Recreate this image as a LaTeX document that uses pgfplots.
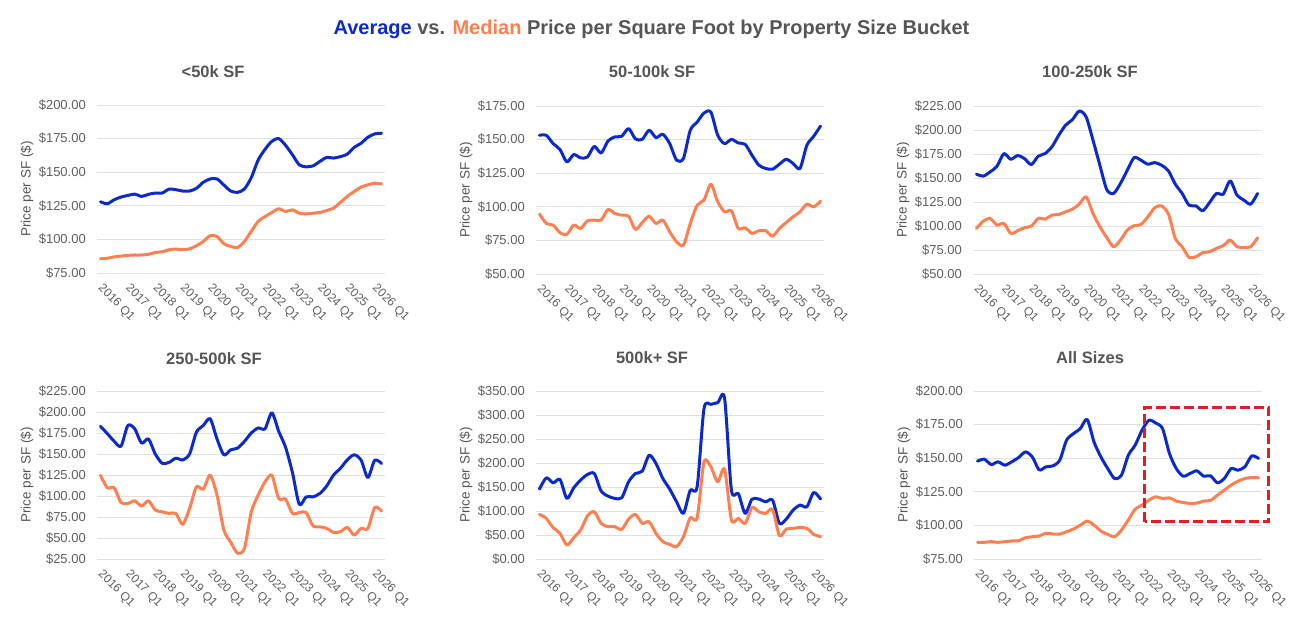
\documentclass[border=0pt]{standalone}
\usepackage{pgfplots}
\pgfplotsset{compat=1.18}
\usepackage{pgfplotstable}
\usepackage{fontspec}
\setmainfont{Liberation Sans}
\definecolor{avgblue}{RGB}{12,42,204}
\definecolor{medorange}{RGB}{255,127,80}
\definecolor{txtgray}{RGB}{85,85,85}
\definecolor{tickgray}{RGB}{95,95,95}
\definecolor{gridgray}{RGB}{224,224,224}
\definecolor{boxred}{RGB}{224,32,32}

\pgfplotstableread{
i avg med
0 128 85.6
1 126.5 86
2 129.5 87
3 131.5 87.6
4 132.7 88.1
5 133.7 88.4
6 132 88.4
7 133.5 88.9
8 134.5 90.3
9 134.5 90.8
10 137.4 92.3
11 137 92.8
12 136 92.3
13 136 93
14 138 95.3
15 142.5 98.5
16 145 102.7
17 145 102.2
18 140.5 96.8
19 136 94.8
20 135 94
21 137.5 98.5
22 146 106
23 159 113.4
24 167 117
25 173 120
26 175 122.8
27 170 120.8
28 163 122
29 155.5 119.5
30 154 119
31 154.7 119.5
32 158 120
33 161 121.5
34 160.5 123.3
35 161.6 127.5
36 163.4 132
37 168.5 135.6
38 171.5 138.9
39 176 140.6
40 178.5 141.8
41 179 141.3
}\tA

\pgfplotstableread{
i avg med
0 153.2 94.6
1 153.2 87.6
2 147 86.4
3 142.6 80.7
4 133.4 79.5
5 138.9 86.4
6 136.4 83.9
7 137 89.6
8 145 90.1
9 140 90.1
10 149 98
11 152 95
12 152.5 93.8
13 158.2 93
14 150.5 83.2
15 150.2 88.4
16 157 93
17 151.5 87.6
18 154 90.1
19 147 81.4
20 134.7 74
21 136 71.5
22 157 87.6
23 163 101.2
24 169.8 105
25 170.5 116.8
26 153.2 103.7
27 147 96.3
28 150.2 97
29 147.5 83.9
30 146.5 84.4
31 138.4 80.2
32 131 82.2
33 128.5 82.2
34 128 78.2
35 131.7 83.9
36 135.4 88.4
37 132.2 92.6
38 128.5 96.3
39 145.8 102
40 152.5 100
41 160.1 104.2
}\tB

\pgfplotstableread{
i avg med
0 154 97.5
1 152 105.1
2 156.4 107.9
3 162.3 101
4 175.4 102.7
5 169.5 92.3
6 173.4 95.1
7 170.3 98.2
8 164 99.9
9 172.7 107.9
10 175.4 107.2
11 182.4 111.3
12 194.5 112
13 205 114.8
14 210.8 117.6
15 219.8 122.8
16 213.6 130.4
17 189.3 113.1
18 163.3 99.2
19 138 88.1
20 133.9 78.4
21 144.3 85.4
22 158.1 95.8
23 171.3 100.3
24 168.5 101.6
25 164.4 109.6
26 166.1 119
27 163.3 121
28 157.4 112.4
29 143.6 87.1
30 133.9 78.4
31 121.7 67.3
32 121 68
33 115.9 72.2
34 124.5 73.2
35 133.9 76.7
36 133.2 79.5
37 147 85.4
38 132.1 78.4
39 127 77.7
40 122.8 78.4
41 133.9 87.8
}\tC

\pgfplotstableread{
i avg med
0 183 124.8
1 174.3 109.8
2 165.2 109.8
3 159.3 92.3
4 184 91.1
5 180 94.3
6 163 88
7 168 94.3
8 150 83.2
9 139 81.2
10 140 79.3
11 145 79.3
12 143 66.2
13 150 85.2
14 176 111
15 184 108.2
16 192 124.8
17 168 101
18 149 59.5
19 155 44.9
20 157 31.8
21 165 37.7
22 175 81.2
23 181 101
24 180 116.9
25 199 124.8
26 177 97
27 158 96.3
28 128 79.3
29 90 80.4
30 99 80.4
31 99 64.2
32 103 63.4
33 112 61.4
34 125 56.7
35 133 57.5
36 143 62.6
37 149 53.5
38 143 61.4
39 122 61.4
40 142.6 86.4
41 138.7 82
}\tD

\pgfplotstableread{
i avg med
0 145.6 92.9
1 169.1 84.6
2 158.7 65.2
3 165.7 53.4
4 126.2 29.1
5 148.3 44.4
6 164.3 60.3
7 176.1 90.1
8 178.1 98.4
9 141.4 74.2
10 131 67.3
11 126.2 67.3
12 127.5 61.7
13 160.8 83.2
14 178.1 92.9
15 183 74.2
16 216.3 77.7
17 198.9 53.4
18 167.7 36.1
19 145.6 30.5
20 119.2 25.7
21 95 46.5
22 143.5 86
23 150.4 86
24 313.3 202.4
25 322.3 192
26 325.7 160.8
27 335 187.1
28 143.5 81.1
29 136.6 84.6
30 95 74.2
31 124.8 107.5
32 124.8 98.4
33 119.2 95
34 122.7 103.3
35 74.2 48.5
36 83.2 62.4
37 101.9 63.8
38 112.3 65.9
39 108.8 63.8
40 138.6 51.3
41 124.8 46.5
}\tE

\pgfplotstableread{
i avg med
0 147.8 87.4
1 149.3 87.4
2 145.3 87.9
3 147.3 87.4
4 144.8 87.9
5 147.3 88.4
6 150.5 88.6
7 154.7 90.8
8 151 91.6
9 141.3 92.1
10 143.6 94.1
11 144.3 93.6
12 148.5 93.6
13 163.4 95.3
14 168.3 97.3
15 172 100.2
16 178.9 103.2
17 162.1 100.2
18 151 95.8
19 142.3 93.3
20 134.9 91.6
21 137.4 96.5
22 152.2 104
23 159.7 112.1
24 170.8 115.1
25 178.2 118.8
26 176.2 121.3
27 172 120
28 153.5 120.5
29 142.3 118.1
30 136.6 117.1
31 138.6 116.3
32 140.6 116.6
33 136.6 118.1
34 136.9 118.6
35 131.7 122.5
36 134.9 126.2
37 142.3 130
38 141.1 132.9
39 143.6 134.9
40 151.7 135.6
41 149.8 135.4
}\tF

\pgfplotsset{
  panel/.style={
    scale only axis, width=288pt, height=168pt,
    xmin=-0.5, xmax=41.5,
    axis line style={draw=none},
    major tick style={draw=none},
    ymajorgrids, grid style={gridgray, line width=1pt},
    xtick={0,4,...,40},
    xticklabels={2016 Q1,2017 Q1,2018 Q1,2019 Q1,2020 Q1,2021 Q1,2022 Q1,2023 Q1,2024 Q1,2025 Q1,2026 Q1},
    xticklabel style={xshift=-0.5pt, yshift=-13.5pt, rotate=-45, anchor=west, inner sep=0pt,
      font=\fontsize{12}{14}\selectfont, text=tickgray},
    /pgf/number format/assume math mode=true,
    yticklabel={\$\pgfmathprintnumber[fixed,fixed zerofill,precision=2]{\tick}},
    yticklabel style={anchor=east, inner sep=0pt, xshift=-11pt, font=\fontsize{13}{15}\selectfont, text=tickgray},
    ylabel={Price per SF (\$)},
    ylabel style={at={(axis description cs:-0.243,0.5)}, anchor=center, font=\fontsize{13.5}{16}\selectfont, text=txtgray},
    title style={font=\bfseries\fontsize{16.5}{20}\selectfont, text=txtgray, anchor=center},
    clip=false,
  },
  avg/.style={color=avgblue, line width=3pt, smooth, tension=0.45, mark=none, line join=round, line cap=round},
  med/.style={color=medorange, line width=3pt, smooth, tension=0.45, mark=none, line join=round, line cap=round},
}

\begin{document}
\begin{tikzpicture}
\node[font=\bfseries\fontsize{20}{24}\selectfont, text=txtgray] at (651.5pt,-29pt)
  {\textcolor{avgblue}{Average} vs. \textcolor{medorange}{Median} Price per Square Foot by Property Size Bucket};

\begin{axis}[panel, at={(97pt,-273pt)}, anchor=south west,
  ymin=75, ymax=200, ytick={75,100,...,200},
  title={<50k SF}, title style={at={(axis description cs:0.403,1.161)}}]
\addplot[avg] table[x=i,y=avg]{\tA};
\addplot[med] table[x=i,y=med]{\tA};
\end{axis}

\begin{axis}[panel, at={(536pt,-274pt)}, anchor=south west,
  ymin=50, ymax=175, ytick={50,75,...,175},
  title={50-100k SF}, title style={at={(axis description cs:0.403,1.167)}}]
\addplot[avg] table[x=i,y=avg]{\tB};
\addplot[med] table[x=i,y=med]{\tB};
\end{axis}

\begin{axis}[panel, at={(973pt,-274pt)}, anchor=south west,
  ymin=50, ymax=225, ytick={50,75,...,225},
  title={100-250k SF}, title style={at={(axis description cs:0.406,1.167)}}]
\addplot[avg] table[x=i,y=avg]{\tC};
\addplot[med] table[x=i,y=med]{\tC};
\end{axis}

\begin{axis}[panel, at={(97pt,-559pt)}, anchor=south west,
  ymin=25, ymax=225, ytick={25,50,...,225},
  title={250-500k SF}, title style={at={(axis description cs:0.406,1.155)}}]
\addplot[avg] table[x=i,y=avg]{\tD};
\addplot[med] table[x=i,y=med]{\tD};
\end{axis}

\begin{axis}[panel, at={(536pt,-559pt)}, anchor=south west,
  ymin=0, ymax=350, ytick={0,50,...,350},
  title={500k+ SF}, title style={at={(axis description cs:0.403,1.161)}}]
\addplot[avg] table[x=i,y=avg]{\tE};
\addplot[med] table[x=i,y=med]{\tE};
\end{axis}

\begin{axis}[panel, at={(974pt,-559pt)}, anchor=south west,
  ymin=75, ymax=200, ytick={75,100,...,200},
  title={All Sizes}, title style={at={(axis description cs:0.403,1.161)}}]
\addplot[avg] table[x=i,y=avg]{\tF};
\addplot[med] table[x=i,y=med]{\tF};
\draw[boxred, line width=3pt, dash pattern=on 10pt off 4pt] (axis cs:24.4,102.7) rectangle (axis cs:42.5,188.1);
\end{axis}

\pgfresetboundingbox
\path[use as bounding box] (0,0) rectangle (1309pt,-627pt);
\end{tikzpicture}
\end{document}
